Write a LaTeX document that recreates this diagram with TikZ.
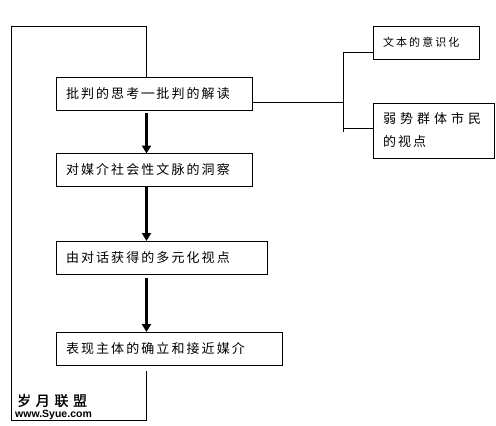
\documentclass[tikz,border=0pt]{standalone}
\usepackage{fontspec}
\usepackage{tikz}
\usetikzlibrary{
	arrows.meta,
	calc,
	positioning
}
\newfontfamily\cjk[LetterSpace=16]{Noto Sans CJK SC}
\newfontfamily\cjksmall[LetterSpace=19]{Noto Sans CJK SC}
\newfontfamily\cjkwide[LetterSpace=31]{Noto Sans CJK SC}
\newfontfamily\cjkmark[LetterSpace=33,FakeBold=1]{Noto Sans CJK SC}
\newfontfamily\marklatin{Liberation Sans}
\tikzset{
	flowbox/.style={draw, line width=1pt, inner xsep=10pt, inner ysep=0pt, outer sep=0pt,
		minimum height=33pt, align=left, anchor=north west,
		font=\fontsize{13pt}{23pt}\selectfont\cjk},
	link/.style={line width=1pt},
	flowarrow/.style={line width=2.2pt, -{Triangle[length=8pt,width=9pt]}}
}
\begin{document}
\begin{tikzpicture}[x=1pt, y=-1pt]
	\useasboundingbox (0,0) rectangle (496,426);
	\fill[white] (0,0) rectangle (496,426);
	
	\node[flowbox, text width=176pt] (critique) at (56,77) {批判的思考═批判的解读};
	\node[flowbox, text width=176pt] (context) at (56,153.5) {对媒介社会性文脉的洞察};
	\node[flowbox, text width=191.5pt] (dialogue) at (56,241) {由对话获得的多元化视点};
	\node[flowbox, text width=206.5pt] (subject) at (56,332) {表现主体的确立和接近媒介};
	
	\node[flowbox, text width=86pt, font=\fontsize{11pt}{15pt}\selectfont\cjksmall] (textbox) at (373,26) {文本的意识化};
	\node[flowbox, text width=101.5pt, minimum height=55pt] (citizen) at (373,103) {{\cjkwide 弱势群体市民}\\的视点};
	
	\coordinate (axis) at (146.5,26);
	\coordinate (arrowa) at (146.5,113);
	\coordinate (arrowb) at (146.5,187);
	\coordinate (arrowc) at (146.5,278);
	\coordinate (backstart) at (146.5,371);
	\coordinate (trunktop) at (343.5,52);
	\coordinate (trunkbranch) at (343.5,128);
	\coordinate (trunkend) at (343.5,132);
	\coordinate (crossout) at (252,102);
	
	\draw[flowarrow] (arrowa) -- (arrowa |- context.north);
	\draw[flowarrow] (arrowb) -- (arrowb |- dialogue.north);
	\draw[flowarrow] (arrowc) -- (arrowc |- subject.north);
	
	\draw[link] (backstart) -- ++(0,49) -| (11,26) -- (axis) -- (axis |- critique.north);
	
	\draw[link] (crossout) -- (crossout -| trunktop);
	\draw[link] (trunkend) -- (trunktop) -- (trunktop -| textbox.west);
	\draw[link] (trunkbranch) -- (trunkbranch -| citizen.west);
	
	\node[anchor=west, inner sep=0pt, font=\fontsize{14pt}{15pt}\selectfont\cjkmark] (markcn) at (17,400.5) {岁月联盟};
	\node[anchor=west, inner sep=0pt, font=\fontsize{10.5pt}{11pt}\selectfont\marklatin\bfseries] (markurl) at (15,414.5) {www.Syue.com};
	
\end{tikzpicture}
\end{document}
